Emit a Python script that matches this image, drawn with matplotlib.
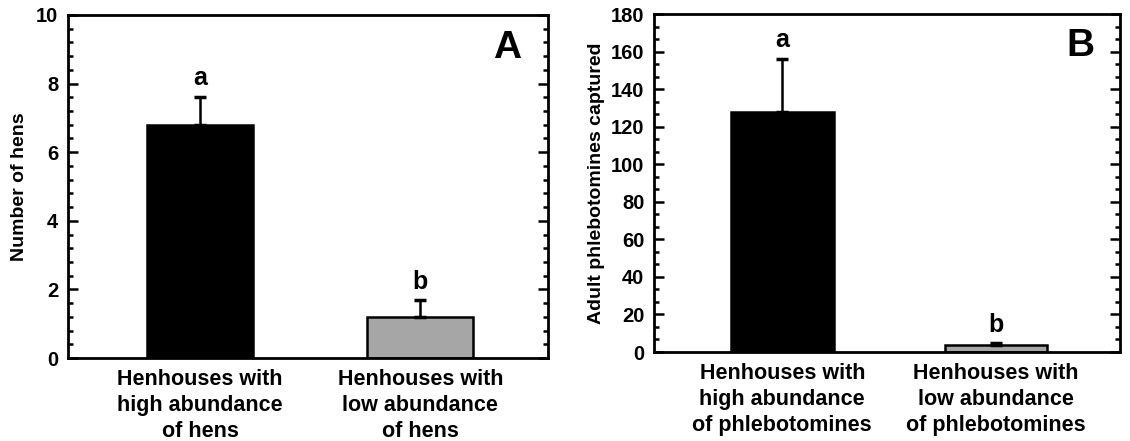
import matplotlib
matplotlib.use("Agg")
import matplotlib.pyplot as plt
from matplotlib.ticker import MultipleLocator, AutoMinorLocator

plt.rcParams['font.family'] = ['Liberation Sans', 'DejaVu Sans']
plt.rcParams['font.weight'] = 'bold'

# panel A
hens_labels = ['Henhouses with\nhigh abundance\nof hens', 'Henhouses with\nlow abundance\nof hens']
hens_means = [6.8, 1.2]
hens_err = [0.82, 0.48]
hens_letters = ['a', 'b']

# panel B
phleb_labels = ['Henhouses with\nhigh abundance\nof phlebotomines', 'Henhouses with\nlow abundance\nof phlebotomines']
phleb_means = [128, 3.6]
phleb_err = [28, 1.0]
phleb_letters = ['a', 'b']

bar_colors = ['black', '#a6a6a6']

fig = plt.figure(figsize=(11.3, 4.41), dpi=100)
ax1 = fig.add_axes([68/1130, 1-358/441, 480/1130, 343/441])
ax2 = fig.add_axes([654/1130, 1-352/441, 466/1130, 338/441])


def draw_panel(ax, labels, means, err, letters, ymax, major, nminor, ylabel, tag, letter_pad, lpad):
    x = [0, 1]
    ax.bar(x, means, width=0.48, color=bar_colors, edgecolor='black', linewidth=1.8, zorder=2)
    ax.errorbar(x, means, yerr=[[0, 0], err], fmt='none', ecolor='black',
                elinewidth=1.8, capsize=4, capthick=2.5, zorder=3)
    for xi, m, e, t in zip(x, means, err, letters):
        ax.text(xi, m + e + letter_pad, t, ha='center', va='bottom', fontsize=18, fontweight='bold')
    ax.set_xlim(-0.6, 1.58)
    ax.set_ylim(0, ymax)
    ax.yaxis.set_major_locator(MultipleLocator(major))
    ax.yaxis.set_minor_locator(AutoMinorLocator(nminor))
    ax.set_xticks(x)
    ax.set_xticklabels(labels, fontsize=15.5, fontweight='bold', linespacing=1.3)
    ax.tick_params(axis='x', length=0, pad=8)
    ax.tick_params(axis='y', which='both', direction='in', right=True, labelsize=14.5, width=1.8, pad=7)
    ax.tick_params(axis='y', which='major', length=7)
    ax.tick_params(axis='y', which='minor', length=3.5)
    for s in ax.spines.values():
        s.set_linewidth(2)
    ax.set_ylabel(ylabel, fontsize=14, fontweight='bold', labelpad=lpad)
    ax.text(0.945, 0.905, tag, transform=ax.transAxes, ha='right', va='center',
            fontsize=28, fontweight='bold')


draw_panel(ax1, hens_labels, hens_means, hens_err, hens_letters, 10, 2, 5,
           'Number of hens', 'A', 0.2, 6)
draw_panel(ax2, phleb_labels, phleb_means, phleb_err, phleb_letters, 180, 20, 3,
           'Adult phlebotomines captured', 'B', 3.5, 4)

fig.savefig('out.png', dpi=100)
